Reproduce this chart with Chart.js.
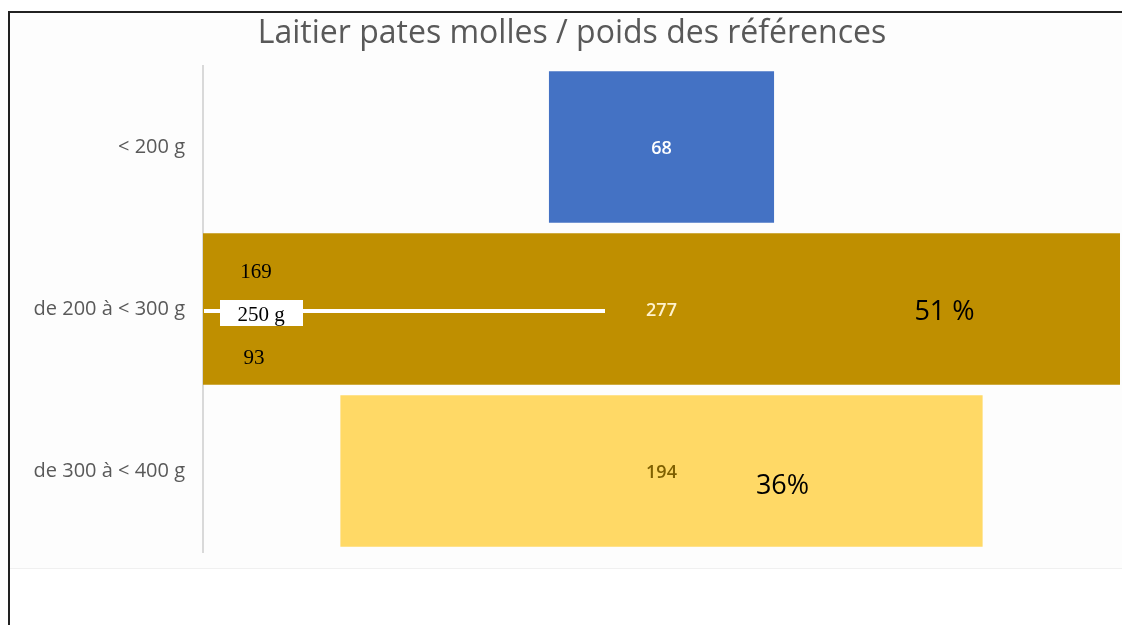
<!DOCTYPE html>
<html>
<head>
<meta charset="utf-8">
<script src="https://cdn.jsdelivr.net/npm/chart.js@4/dist/chart.umd.min.js"></script>
<style>
  html, body { margin: 0; padding: 0; background: #fff; }
  #wrap { position: relative; width: 1122px; height: 625px; }
</style>
</head>
<body>
<div id="wrap"><canvas id="chart" width="1122" height="625"></canvas></div>
<script>
// data
const categories = ["< 200 g", "de 200 à < 300 g", "de 300 à < 400 g"];
const counts = [68, 277, 194];
const barColors = ["#4472C4", "#BF8F00", "#FFD966"];
const valueColors = ["#ffffff", "#fff2cc", "#7f6000"];
const titleText = "Laitier pates molles / poids des références";
// hand-written notes on the middle bar
const splitAbove = "169";
const splitBelow = "93";
const splitLabel = "250 g";
const shareLabels = [null, "51 %", "36%"];

const half = Math.max(...counts) / 2;
// funnel: every bar is centred on zero
const floating = counts.map((v) => [-v / 2, v / 2]);

const overlay = {
  id: "overlay",
  beforeDraw(chart) {
    const { ctx } = chart;
    ctx.save();
    ctx.fillStyle = "#fdfdfd";
    ctx.fillRect(10, 13, 1112, 555);
    ctx.strokeStyle = "#f0f0f0";
    ctx.lineWidth = 1;
    ctx.beginPath();
    ctx.moveTo(10, 568.5);
    ctx.lineTo(1122, 568.5);
    ctx.stroke();
    // outer frame
    ctx.strokeStyle = "#222";
    ctx.lineWidth = 2;
    ctx.beginPath();
    ctx.moveTo(1122, 12);
    ctx.lineTo(9, 12);
    ctx.lineTo(9, 625);
    ctx.stroke();
    // title
    ctx.fillStyle = "#595959";
    ctx.font = "32px 'Open Sans', sans-serif";
    ctx.textAlign = "center";
    ctx.textBaseline = "middle";
    ctx.fillText(titleText, 572, 34);
    ctx.restore();
  },
  afterDatasetsDraw(chart) {
    const { ctx } = chart;
    const bars = chart.getDatasetMeta(0).data;
    ctx.save();
    ctx.textAlign = "center";
    ctx.textBaseline = "middle";

    // values in the middle of each bar
    ctx.font = "600 18px 'Open Sans', sans-serif";
    bars.forEach((bar, i) => {
      const { x, y, base } = bar.getProps(["x", "y", "base"], true);
      ctx.fillStyle = valueColors[i];
      ctx.fillText(String(counts[i]), (x + base) / 2, y + 2);
    });

    // shares
    ctx.fillStyle = "#000";
    ctx.font = "27px 'Open Sans', sans-serif";
    bars.forEach((bar, i) => {
      if (!shareLabels[i]) return;
      const { x, y, base } = bar.getProps(["x", "y", "base"], true);
      const mid = (x + base) / 2;
      if (i === 1) ctx.fillText(shareLabels[i], mid + 283, y + 3);
      else ctx.fillText(shareLabels[i], mid + 121, y + 15);
    });

    // split marker on the middle bar
    const b = bars[1].getProps(["x", "y", "base"], true);
    const left = Math.min(b.x, b.base);
    ctx.strokeStyle = "#fff";
    ctx.lineWidth = 4;
    ctx.beginPath();
    ctx.moveTo(left + 1, b.y + 2);
    ctx.lineTo(left + 402, b.y + 2);
    ctx.stroke();
    ctx.fillStyle = "#fff";
    ctx.fillRect(left + 17, b.y - 9, 83, 26);
    ctx.fillStyle = "#000";
    ctx.font = "21px 'Liberation Serif', serif";
    ctx.fillText(splitLabel, left + 58, b.y + 6);
    ctx.fillText(splitAbove, left + 53, b.y - 37);
    ctx.fillText(splitBelow, left + 51, b.y + 49);
    ctx.restore();
  }
};

new Chart(document.getElementById("chart"), {
  type: "bar",
  data: {
    labels: categories,
    datasets: [{
      data: floating,
      backgroundColor: barColors,
      borderWidth: 0,
      barPercentage: 0.935,
      categoryPercentage: 1
    }]
  },
  options: {
    indexAxis: "y",
    responsive: false,
    animation: false,
    layout: { padding: { top: 66, right: 2, bottom: 73, left: 0 } },
    plugins: {
      legend: { display: false },
      tooltip: { enabled: false }
    },
    scales: {
      x: { display: false, min: -half, max: half },
      y: {
        grid: { display: false, drawTicks: false },
        border: { display: true, color: "#d9d9d9", width: 2 },
        ticks: {
          color: "#595959",
          padding: 18,
          font: { family: "'Open Sans', sans-serif", size: 20 }
        },
        afterFit(scale) { scale.width = 203; }
      }
    }
  },
  plugins: [overlay]
});
</script>
</body>
</html>
